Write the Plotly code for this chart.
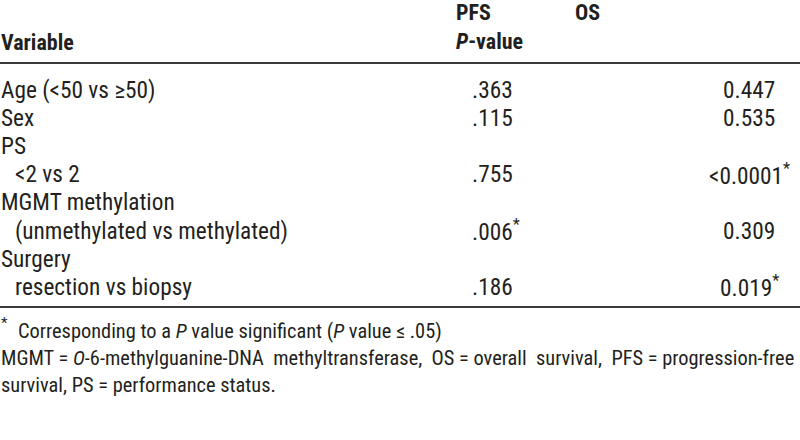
import plotly.graph_objects as go

variables = ["Age (&lt;50 vs ≥50)", "Sex", "PS", "&lt;2 vs 2", "MGMT methylation",
             "(unmethylated vs methylated)", "Surgery", "resection vs biopsy"]
indent = [False, False, False, True, False, True, False, True]
pfs_p = [".363", ".115", "", ".755", "", ".006", "", ".186"]
pfs_sig = [False, False, False, False, False, True, False, False]
os_p = ["0.447", "0.535", "", "&lt;0.0001", "", "0.309", "", "0.019"]
os_sig = [False, False, False, True, False, False, False, True]
header_left = "Variable"
header_pfs = ["PFS", "<i>P</i>-value"]
header_os = "OS"
footnotes = ["Corresponding to a <i>P</i> value significant (<i>P</i> value ≤ .05)",
             "MGMT = <i>O</i>-6-methylguanine-DNA  methyltransferase,  OS = overall  survival,  PFS = progression-free",
             "survival, PS = performance status."]

FONT = "Roboto Condensed"
COL = "#231f20"
fs = 23.3

fig = go.Figure()
ann = []
def add(x, y, t, anchor="left", bold=False, size=fs):
    ann.append(dict(x=x, y=y, xref="x", yref="y", text=("<b>%s</b>" % t) if bold else t,
                    showarrow=False, xanchor=anchor, yanchor="middle", borderpad=0,
                    font=dict(family=FONT, size=size, color=COL)))

add(0, 42, header_left, bold=True, size=22)
add(455, 12, header_pfs[0], bold=True, size=22)
add(455, 41, header_pfs[1], bold=True, size=22)
add(574, 12, header_os, bold=True, size=22)

row_y0, row_dy = 90, 28.1
for i in range(len(variables)):
    y = row_y0 + i * row_dy
    add(14 if indent[i] else 0, y, variables[i])
    if pfs_p[i]:
        add(471, y, pfs_p[i] + ("<sup>*</sup>" if pfs_sig[i] else ""))
    if os_p[i]:
        add(749, y, os_p[i] + ("<sup>*</sup>" if os_sig[i] else ""), anchor="center")

fy = [331, 358, 385]
add(0, fy[0] - 8, "*", size=15)
add(17, fy[0], footnotes[0], size=20.4)
add(0, fy[1], footnotes[1], size=20.4)
add(0, fy[2], footnotes[2], size=20.4)

shapes = [
    dict(type="line", x0=0, x1=800, y0=63, y1=63, xref="x", yref="y", line=dict(color="#3a3a3a", width=2)),
    dict(type="line", x0=0, x1=800, y0=307, y1=307, xref="x", yref="y", line=dict(color="#3a3a3a", width=2)),
]

fig.update_layout(width=800, height=440, margin=dict(l=0, r=0, t=0, b=0),
                  paper_bgcolor="white", plot_bgcolor="white",
                  xaxis=dict(range=[0, 800], visible=False, fixedrange=True),
                  yaxis=dict(range=[440, 0], visible=False, fixedrange=True),
                  annotations=ann, shapes=shapes, showlegend=False)
fig.write_html("out.html", config={"displayModeBar": False},
               post_script="document.body.style.margin='0px';")
